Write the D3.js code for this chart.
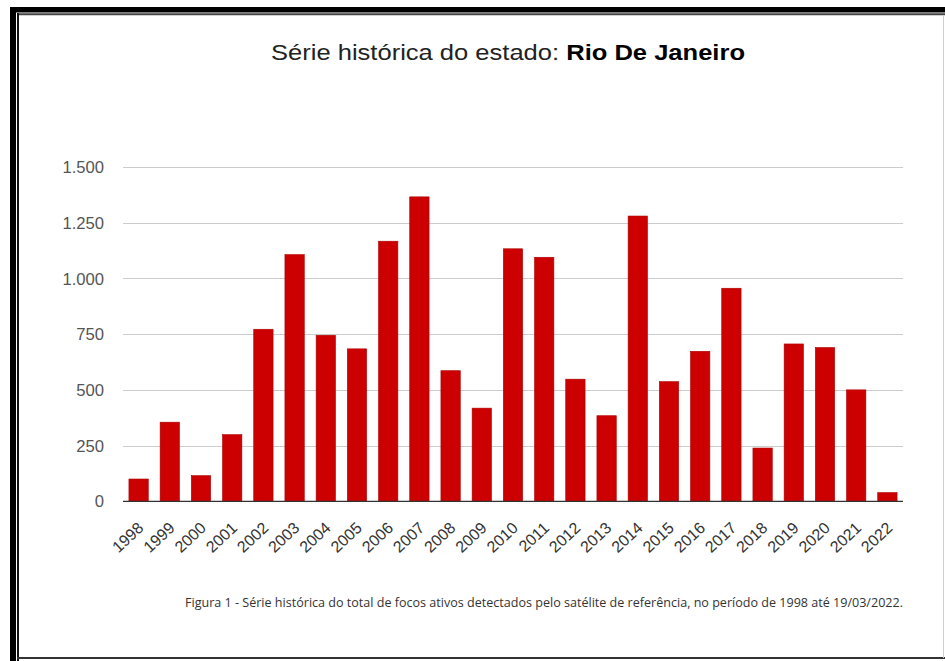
<!DOCTYPE html>
<html>
<head>
<meta charset="utf-8">
<script src="https://cdn.jsdelivr.net/npm/d3@7"></script>
<style>
  html, body { margin: 0; padding: 0; background: #fff; }
  svg { display: block; }
</style>
</head>
<body>
<svg id="chart" width="945" height="661"></svg>
<script>
// Annual active fire counts, Rio de Janeiro state
const years = ["1998","1999","2000","2001","2002","2003","2004","2005","2006","2007","2008","2009","2010",
               "2011","2012","2013","2014","2015","2016","2017","2018","2019","2020","2021","2022"];
const focos = [100, 355, 115, 299, 772, 1107, 745, 684, 1167, 1366, 586, 418, 1133,
               1095, 548, 384, 1280, 537, 673, 956, 239, 706, 690, 500, 39];
const yTicks = [0, 250, 500, 750, 1000, 1250, 1500];

const titleNormal = "Série histórica do estado: ";
const titleBold = "Rio De Janeiro";
const caption = "Figura 1 - Série histórica do total de focos ativos detectados pelo satélite de referência, no período de 1998 até 19/03/2022.";

const svg = d3.select("#chart");

// Page frame: heavy black edge on top/left, thin rule all round
svg.append("rect").attr("x", 10).attr("y", 7).attr("width", 935).attr("height", 5.5).attr("fill", "#000");
svg.append("rect").attr("x", 10).attr("y", 7).attr("width", 6).attr("height", 654).attr("fill", "#000");
svg.append("line").attr("x1", 17).attr("x2", 945).attr("y1", 14.3).attr("y2", 14.3).attr("stroke", "#444").attr("stroke-width", 2);
svg.append("line").attr("x1", 18).attr("x2", 18).attr("y1", 13).attr("y2", 661).attr("stroke", "#111").attr("stroke-width", 2);
svg.append("line").attr("x1", 17).attr("x2", 945).attr("y1", 658).attr("y2", 658).attr("stroke", "#333").attr("stroke-width", 2);
svg.append("line").attr("x1", 943.5).attr("x2", 943.5).attr("y1", 15).attr("y2", 658).attr("stroke", "#d0d0d0").attr("stroke-width", 1);

const ptBR = d3.formatLocale({ decimal: ",", thousands: ".", grouping: [3], currency: ["R$", ""] });
const fmt = ptBR.format(",");

const x = d3.scaleBand().domain(years).range([123, 903]).paddingInner(0.38).paddingOuter(0.19);
const y = d3.scaleLinear().domain([0, 1500]).range([501.3, 167]);

// Horizontal gridlines
svg.append("g").selectAll("line").data(yTicks.filter(d => d > 0)).join("line")
  .attr("x1", 123).attr("x2", 903)
  .attr("y1", d => Math.round(y(d)) + 0.5).attr("y2", d => Math.round(y(d)) + 0.5)
  .attr("stroke", "#cccccc").attr("stroke-width", 1);

// Y axis labels
const yAxis = d3.axisLeft(y).tickValues(yTicks).tickFormat(fmt).tickSize(0).tickPadding(0);
const gy = svg.append("g").attr("transform", "translate(104,0)").call(yAxis);
gy.select(".domain").remove();
gy.selectAll("text")
  .attr("font-family", "'Liberation Sans', Arial, sans-serif")
  .attr("font-size", 16).attr("fill", "#555").attr("dy", "0.35em")
  .attr("transform", "scale(1.04,1)");

// Bars
svg.append("g").selectAll("rect").data(years).join("rect")
  .attr("x", d => x(d))
  .attr("width", x.bandwidth())
  .attr("y", (d, i) => y(focos[i]))
  .attr("height", (d, i) => y(0) - y(focos[i]))
  .attr("fill", "#cc0000")
  .attr("stroke", "#b00000").attr("stroke-width", 0.6);

// Baseline
svg.append("line").attr("x1", 123).attr("x2", 903).attr("y1", y(0)).attr("y2", y(0))
  .attr("stroke", "#333").attr("stroke-width", 1.2);

// X axis labels, slanted
const xAxis = d3.axisBottom(x).tickSize(0).tickPadding(0);
const gx = svg.append("g").attr("transform", `translate(0,${y(0)})`).call(xAxis);
gx.select(".domain").remove();
gx.selectAll("text")
  .attr("font-family", "'Liberation Sans', Arial, sans-serif")
  .attr("font-size", 16).attr("fill", "#333")
  .attr("text-anchor", "end")
  .attr("dy", null).attr("y", null)
  .attr("transform", "translate(6,28) rotate(-43)");

// Title
const title = svg.append("text")
  .attr("x", 508).attr("y", 60)
  .attr("text-anchor", "middle")
  .attr("font-family", "'Liberation Sans', Arial, sans-serif")
  .attr("font-size", 21.5).attr("fill", "#222")
  .attr("textLength", 474).attr("lengthAdjust", "spacingAndGlyphs");
title.append("tspan").text(titleNormal);
title.append("tspan").attr("font-weight", "bold").attr("fill", "#000").text(titleBold);

// Caption
svg.append("text")
  .attr("x", 185).attr("y", 607)
  .attr("font-family", "'Open Sans', 'Noto Sans', sans-serif")
  .attr("font-size", 12).attr("fill", "#333")
  .attr("textLength", 718).attr("lengthAdjust", "spacingAndGlyphs")
  .text(caption);
</script>
</body>
</html>
